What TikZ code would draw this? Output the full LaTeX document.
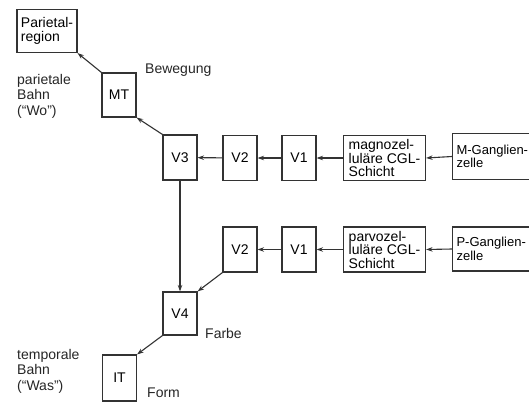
\documentclass[tikz,border=0pt]{standalone}
\usepackage{fontspec}
\setmainfont{Liberation Sans}
\usetikzlibrary{arrows.meta}
\begin{document}
\begin{tikzpicture}[x=1pt,y=-1pt,
  box/.style={draw=black!80,line width=1.1pt,inner sep=0pt,minimum height=45pt,minimum width=34pt,font=\fontsize{14}{13.5}\selectfont},
  gbox/.style={box,minimum width=90pt,anchor=west,font=\fontsize{13}{13.5}\selectfont},
  lbl/.style={font=\fontsize{14}{15.5}\selectfont,align=left,inner sep=0pt,text=black!85},
  arr/.style={draw=black!80,line width=1.1pt,-{Stealth[length=6.5pt,width=4.5pt]}}]
\useasboundingbox (0,0) rectangle (529,401);
\fill[white] (0,0) rectangle (529,401);
\node[box,minimum width=60pt,minimum height=43pt,align=left] (par) at (47,31) {Parietal-\\region};
\node[box,minimum height=44pt] (mt) at (119,95) {MT};
\node[box] (v3) at (180,157.5) {V3};
\node[box] (v2a) at (240,158) {V2};
\node[box] (v1a) at (299,158) {V1};
\node[box,minimum width=82pt,align=left] (mag) at (384.5,158) {magnozel-\\luläre CGL-\\Schicht};
\node[gbox,minimum height=46pt] (mg) at (452,156.5) {\hspace{3pt}\parbox{85pt}{\raggedright M-Ganglien-\\zelle}};
\node[box] (v2b) at (240,249.5) {V2};
\node[box] (v1b) at (299,249.5) {V1};
\node[box,minimum width=82pt,align=left] (pav) at (384.5,249.5) {parvozel-\\luläre CGL-\\Schicht};
\node[gbox,minimum height=44pt] (pg) at (452,249) {\hspace{3pt}\parbox{85pt}{\raggedright P-Ganglien-\\zelle}};
\node[box,minimum height=43pt] (v4) at (180,313.5) {V4};
\node[box,minimum height=46pt] (it) at (119.5,378) {IT};
% labels
\node[lbl,anchor=west] (bew) at (145,70) {Bewegung};
\node[lbl,anchor=north west] (pb) at (17,74) {parietale\\Bahn\\(\char"201CWo\char"201D)};
\node[lbl,anchor=west] (far) at (205,333) {Farbe};
\node[lbl,anchor=west] (form) at (147,393) {Form};
\node[lbl,anchor=north west] (tb) at (17,349) {temporale\\Bahn\\(\char"201CWas\char"201D)};
% arrows
\draw[arr] (mt.north west) -- (par.south east);
\draw[arr] (v3.north west) -- (mt.south east);
\draw[arr] (v2a) -- (v3);
\draw[arr] (v1a) -- (v2a);
\draw[arr] (mag) -- (v1a);
\draw[arr] (mg.west) -- (mag.east);
\draw[arr] (v1b) -- (v2b);
\draw[arr] (pav) -- (v1b);
\draw[arr] (pg.west) -- (pav.east);
\draw[arr] (v3) -- (v4);
\draw[arr] (v2b.south west) -- (v4.north east);
\draw[arr] (v4.south west) -- (it.north east);
\end{tikzpicture}
\end{document}
